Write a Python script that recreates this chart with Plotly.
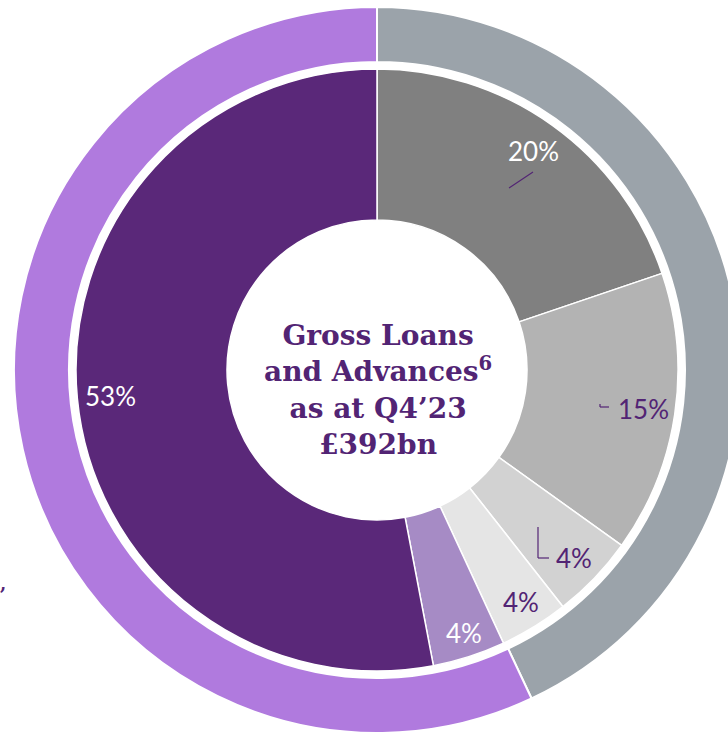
import plotly.graph_objects as go

# ---- data ----
inner_labels = ["Segment A", "Segment B", "Segment C", "Segment D", "Segment E", "Segment F"]
inner_values = [19.8, 15.1, 4.5, 3.7, 3.9, 53.0]
inner_text = ["20%", "15%", "4%", "4%", "4%", "53%"]
outer_labels = ["Grey group", "Purple group"]
outer_values = [43.0, 57.0]
center_lines = ["Gross Loans", "and Advances<sup>6</sup>", "as at Q4\u201923", "\u00a3392bn"]

# ---- style ----
W, H = 754, 740
inner_colors = ["#808080", "#b3b3b3", "#d2d2d2", "#e5e5e5", "#a68bc5", "#5a2879"]
outer_colors = ["#9ba3aa", "#b07ade"]
purple_text = "#522474"
label_colors = ["white", purple_text, purple_text, purple_text, "white", "white"]
label_pos_px = [(533, 151), (643, 409), (574, 558), (521, 602), (464, 633), (110, 396)]

def px(x, y):
    return x / W, 1 - y / H

cx, cy = 377, 370
r_out, r_out_in = 363, 308
r_in, r_hole = 301, 150

fig = go.Figure()
fig.add_trace(go.Pie(
    labels=outer_labels, values=outer_values, sort=False, direction="clockwise",
    rotation=0, hole=r_out_in / r_out, textinfo="none", hoverinfo="label+percent",
    marker=dict(colors=outer_colors, line=dict(color="white", width=2)),
    domain=dict(x=[(cx - r_out) / W, (cx + r_out) / W], y=[1 - (cy + r_out) / H, 1 - (cy - r_out) / H]),
    showlegend=False,
))
fig.add_trace(go.Pie(
    labels=inner_labels, values=inner_values, sort=False, direction="clockwise",
    rotation=0, hole=r_hole / r_in, textinfo="none", hoverinfo="label+percent",
    marker=dict(colors=inner_colors, line=dict(color="white", width=1.5)),
    domain=dict(x=[(cx - r_in) / W, (cx + r_in) / W], y=[1 - (cy + r_in) / H, 1 - (cy - r_in) / H]),
    showlegend=False,
))

annotations = []
for txt, col, (x, y) in zip(inner_text, label_colors, label_pos_px):
    ax, ay = px(x, y)
    annotations.append(dict(
        x=ax, y=ay, xref="paper", yref="paper", text=txt, showarrow=False,
        xanchor="center", yanchor="middle",
        font=dict(family="Lato", size=26, color=col),
    ))

ax, ay = px(cx + 1, 390)
annotations.append(dict(
    x=ax, y=ay, xref="paper", yref="paper", text="<br>".join(center_lines),
    showarrow=False, xanchor="center", yanchor="middle", align="center",
    font=dict(family="DejaVu Serif", size=28, color=purple_text, weight="bold"),
))
ax, ay = px(3, 583)
annotations.append(dict(
    x=ax, y=ay, xref="paper", yref="paper", text=",", showarrow=False,
    xanchor="center", yanchor="middle",
    font=dict(family="DejaVu Serif", size=18, color=purple_text, weight="bold"),
))

def seg(x0, y0, x1, y1):
    a0, b0 = px(x0, y0)
    a1, b1 = px(x1, y1)
    return dict(type="line", xref="paper", yref="paper", x0=a0, y0=b0, x1=a1, y1=b1,
                line=dict(color=purple_text, width=1.2))

shapes = [
    seg(509, 188, 533, 172),
    seg(600, 404, 600, 407), seg(600, 407, 609, 407),
    seg(538, 527, 538, 558), seg(538, 558, 549, 558),
]

fig.update_layout(
    width=W, height=H, autosize=False,
    margin=dict(l=0, r=0, t=0, b=0, pad=0),
    paper_bgcolor="white", plot_bgcolor="white",
    annotations=annotations, shapes=shapes,
)

fig.write_html(
    "out.html",
    config={"displayModeBar": False},
    post_script="document.body.style.margin='0';document.body.style.overflow='hidden';document.documentElement.style.overflow='hidden';",
)
